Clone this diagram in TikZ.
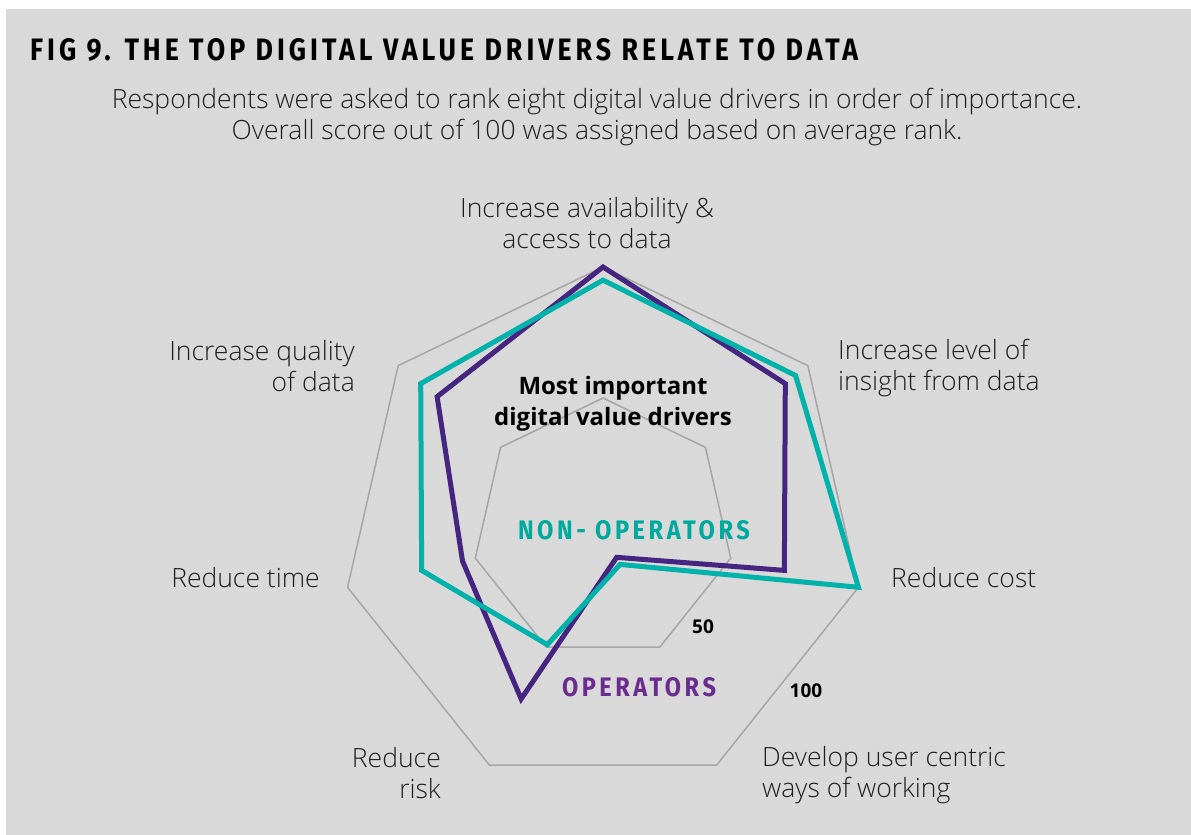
\documentclass[tikz,border=0pt]{standalone}
\usepackage{fontspec}
\IfFontExistsTF{Open Sans Light}{\setmainfont{Open Sans Light}[BoldFont={Open Sans Bold}]}{\setmainfont{Open Sans}}
\newfontfamily\capsfont{Fira Sans}[LetterSpace=15]

\definecolor{panel}{HTML}{D9D9D9}
\definecolor{ring}{HTML}{A6A6A6}
\definecolor{opline}{HTML}{45257F}
\definecolor{nonopline}{HTML}{00B2A9}
\definecolor{optext}{HTML}{6A2C8E}
\definecolor{nonoptext}{HTML}{00A99D}

\tikzset{
  lbl/.style={font=\fontsize{26.5}{31}\selectfont, text=black!88, inner sep=0pt},
  bold/.style={font=\fontsize{24}{31}\selectfont\bfseries, inner sep=0pt},
  small/.style={font=\fontsize{19}{22}\selectfont\bfseries, inner sep=0pt},
  caps/.style={font=\capsfont\bfseries, inner sep=0pt},
  ringline/.style={draw=ring, line width=1.5pt},
  series/.style={line width=5pt, line join=miter},
}

\begin{document}
\begin{tikzpicture}[x=1pt,y=-1pt]
\useasboundingbox (0,0) rectangle (1191,835);
\fill[panel] (6,9) rectangle (1191,835);

% heading
\node[caps, anchor=west] (title) at (30,50)
  {\resizebox{828pt}{22pt}{FIG 9. THE TOP DIGITAL VALUE DRIVERS RELATE TO DATA}};
\node[lbl, align=center] (sub) at (597,117)
  {Respondents were asked to rank eight digital value drivers in order of importance.\\
   Overall score out of 100 was assigned based on average rank.};

% radar, 100 = 262pt
\begin{scope}[shift={(603,529)}]
  \foreach \r in {50,100}
    \draw[ringline] (-90:{\r*2.62}) \foreach \k in {1,...,6} { -- ({-90+\k*360/7}:{\r*2.62}) } -- cycle;

  \foreach \v [count=\k from 0] in {100,89,71,12,72,55,81}
    \coordinate (op\k) at ({-90+\k*360/7}:{\v*2.62});
  \foreach \v [count=\k from 0] in {95,94,100,15,49,71,89}
    \coordinate (nonop\k) at ({-90+\k*360/7}:{\v*2.62});

  \draw[series, opline] (op0) -- (op1) -- (op2) -- (op3) -- (op4) -- (op5) -- (op6) -- cycle;
  \draw[series, nonopline] (nonop0) -- (nonop1) -- (nonop2) -- (nonop3) -- (nonop4) -- (nonop5) -- (nonop6) -- cycle;
\end{scope}

% axis labels
\node[lbl, align=center] (access) at (587,223) {Increase availability \&\\access to data};
\node[lbl, align=left, anchor=west] (insight) at (838,368) {Increase level of\\insight from data};
\node[lbl, anchor=west] (cost) at (891,578) {Reduce cost};
\node[lbl, align=left, anchor=west] (usercentric) at (762,775) {Develop user centric\\ways of working};
\node[lbl, align=right, anchor=east] (risk) at (441,773) {Reduce\\risk};
\node[lbl, anchor=east] (time) at (320,578) {Reduce time};
\node[lbl, align=right, anchor=east] (quality) at (355,366) {Increase quality\\of data};

% inner texts
\node[bold, align=center] (drivers) at (613,404) {Most important\\digital value drivers};
\node[caps, text=nonoptext] (nonop) at (634,530) {\resizebox{232pt}{19pt}{NON- OPERATORS}};
\node[caps, text=optext] (op) at (639,687) {\resizebox{154pt}{19pt}{OPERATORS}};
\node[small] (fifty) at (703,627) {50};
\node[small] (hundred) at (806,691) {100};
\end{tikzpicture}
\end{document}
